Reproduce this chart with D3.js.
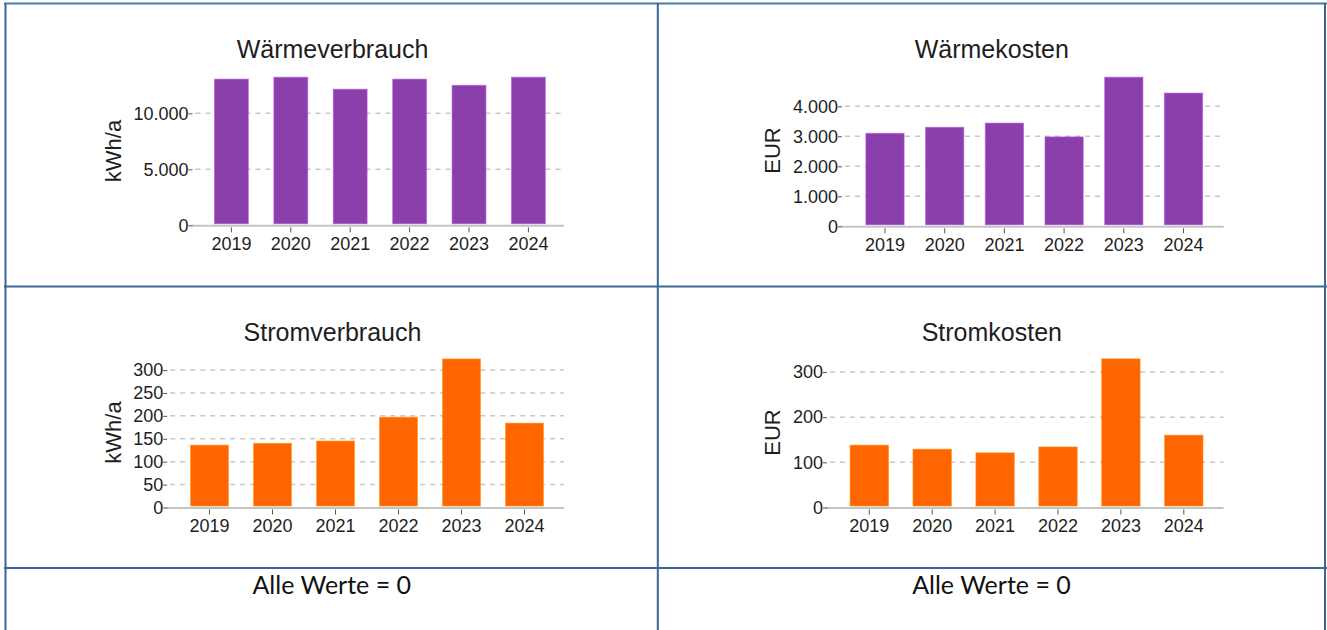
<!DOCTYPE html>
<html>
<head>
<meta charset="utf-8">
<script src="https://cdn.jsdelivr.net/npm/d3@7"></script>
<style>
  body { margin: 0; background: #fff; }
  svg { display: block; font-family: "Liberation Sans", Arial, sans-serif; }
</style>
</head>
<body>
<svg width="1327" height="630"></svg>
<script>
// Data
const years = ['2019', '2020', '2021', '2022', '2023', '2024'];
const waermeVerbrauch = [13050, 13220, 12150, 13050, 12500, 13220];
const waermeKosten = [3100, 3300, 3440, 2980, 4970, 4440];
const stromVerbrauch = [136, 140, 145, 197, 324, 184];
const stromKosten = [138, 129, 121, 134, 329, 160];

const waermeVerbrauchTicks = [0, 5000, 10000];
const waermeKostenTicks = [0, 1000, 2000, 3000, 4000];
const stromVerbrauchTicks = [0, 50, 100, 150, 200, 250, 300];
const stromKostenTicks = [0, 100, 200, 300];

const emptyNote = 'Alle Werte = 0';

const svg = d3.select('svg');
const de = d3.formatLocale({decimal: ',', thousands: '.', grouping: [3], currency: ['', ' €']});
const fmt = de.format(',d');

const purple = '#8b3fab';
const orange = '#ff6600';

// table lines
const border = svg.append('g').attr('stroke', '#3a6596').attr('stroke-width', 2);
border.append('line').attr('x1', 4).attr('x2', 1327).attr('y1', 3.5).attr('y2', 3.5).attr('stroke', '#4a78b0');
border.append('line').attr('x1', 5.5).attr('x2', 5.5).attr('y1', 3).attr('y2', 630);
border.append('line').attr('x1', 657.8).attr('x2', 657.8).attr('y1', 3).attr('y2', 630);
border.append('line').attr('x1', 1325).attr('x2', 1325).attr('y1', 3).attr('y2', 630);
border.append('line').attr('x1', 4).attr('x2', 1327).attr('y1', 286.5).attr('y2', 286.5);
border.append('line').attr('x1', 4).attr('x2', 1327).attr('y1', 568).attr('y2', 568);

const charts = [
  {title: 'Wärmeverbrauch', unit: 'kWh/a', values: waermeVerbrauch, ticks: waermeVerbrauchTicks, color: purple,
   yMax: 15000, y0: 225.3, yTop: 57.3, center0: 231.4, step: 59.4, pad: 0.43,
   axisX: [191.5, 564], titleX: 332.5, titleY: 58, unitX: 113.6, unitY: 151},
  {title: 'Wärmekosten', unit: 'EUR', values: waermeKosten, ticks: waermeKostenTicks, color: purple,
   yMax: 5000, y0: 226.3, yTop: 76.3, center0: 885, step: 59.7, pad: 0.36,
   axisX: [841, 1223.6], titleX: 991.8, titleY: 58, unitX: 772.7, unitY: 150.5},
  {title: 'Stromverbrauch', unit: 'kWh/a', values: stromVerbrauch, ticks: stromVerbrauchTicks, color: orange,
   yMax: 350, y0: 507.5, yTop: 347.1, center0: 209.5, step: 63, pad: 0.40,
   axisX: [166.2, 564], titleX: 332.5, titleY: 341, unitX: 113.6, unitY: 432.5},
  {title: 'Stromkosten', unit: 'EUR', values: stromKosten, ticks: stromKostenTicks, color: orange,
   yMax: 350, y0: 507.5, yTop: 349.4, center0: 869.3, step: 62.9, pad: 0.39,
   axisX: [826, 1223.6], titleX: 991.8, titleY: 341, unitX: 772.7, unitY: 432.5},
];

const drawChart = c => {
  const g = svg.append('g');
  const x = d3.scaleBand()
    .domain(years)
    .range([c.center0 - c.step / 2, c.center0 + c.step * (years.length - 0.5)])
    .paddingInner(c.pad)
    .paddingOuter(c.pad / 2);
  const y = d3.scaleLinear().domain([0, c.yMax]).range([c.y0, c.yTop]);

  // dashed grid
  g.append('g').selectAll('line')
    .data(c.ticks.filter(t => t > 0))
    .enter().append('line')
      .attr('x1', c.axisX[0] + 4)
      .attr('x2', c.axisX[1])
      .attr('y1', d => y(d))
      .attr('y2', d => y(d))
      .attr('stroke', '#c8c8c8')
      .attr('stroke-width', 1.5)
      .attr('stroke-dasharray', '5,5');

  // bars
  const data = years.map((yr, i) => ({yr, v: c.values[i]}));
  g.append('g').selectAll('rect')
    .data(data)
    .enter().append('rect')
      .attr('x', d => x(d.yr))
      .attr('width', x.bandwidth())
      .attr('y', d => y(d.v))
      .attr('height', d => c.y0 - 1.5 - y(d.v))
      .attr('fill', c.color)
      .attr('stroke', d3.color(c.color).brighter(0.8))
      .attr('stroke-opacity', 0.6)
      .attr('stroke-width', 1);

  // base line
  g.append('line')
    .attr('x1', c.axisX[0]).attr('x2', c.axisX[1])
    .attr('y1', c.y0 + 0.5).attr('y2', c.y0 + 0.5)
    .attr('stroke', '#c4c4c4')
    .attr('stroke-width', 2);

  // y axis
  const ya = g.append('g')
    .attr('transform', `translate(${c.axisX[0] + 1},0)`)
    .call(d3.axisLeft(y).tickValues(c.ticks).tickSize(4).tickPadding(0).tickFormat(fmt));
  ya.select('.domain').remove();

  // x axis
  const xa = g.append('g')
    .attr('transform', `translate(0,${c.y0 + 2})`)
    .call(d3.axisBottom(x).tickSize(5).tickPadding(5));
  xa.select('.domain').remove();

  [ya, xa].forEach(a => {
    a.selectAll('.tick line').attr('stroke', '#555');
    a.selectAll('.tick text')
      .attr('fill', '#1e1e1e')
      .style('font-size', '18px')
      .style('font-family', '"Liberation Sans", Arial, sans-serif');
  });

  // title
  g.append('text')
    .attr('x', c.titleX)
    .attr('y', c.titleY)
    .attr('text-anchor', 'middle')
    .attr('fill', '#1e1e1e')
    .style('font-size', '25px')
    .text(c.title);

  // unit label
  g.append('text')
    .attr('transform', `translate(${c.unitX},${c.unitY}) rotate(-90)`)
    .attr('dy', '0.35em')
    .attr('text-anchor', 'middle')
    .attr('fill', '#1e1e1e')
    .style('font-size', '22px')
    .text(c.unit);
};

charts.forEach(drawChart);

// bottom row notes
svg.append('g').selectAll('text')
  .data([331.8, 991.5])
  .enter().append('text')
    .attr('x', d => d)
    .attr('y', 594)
    .attr('text-anchor', 'middle')
    .attr('fill', '#111')
    .style('font-family', 'Lato, "Open Sans", sans-serif')
    .style('font-size', '25px')
    .text(emptyNote);
</script>
</body>
</html>
